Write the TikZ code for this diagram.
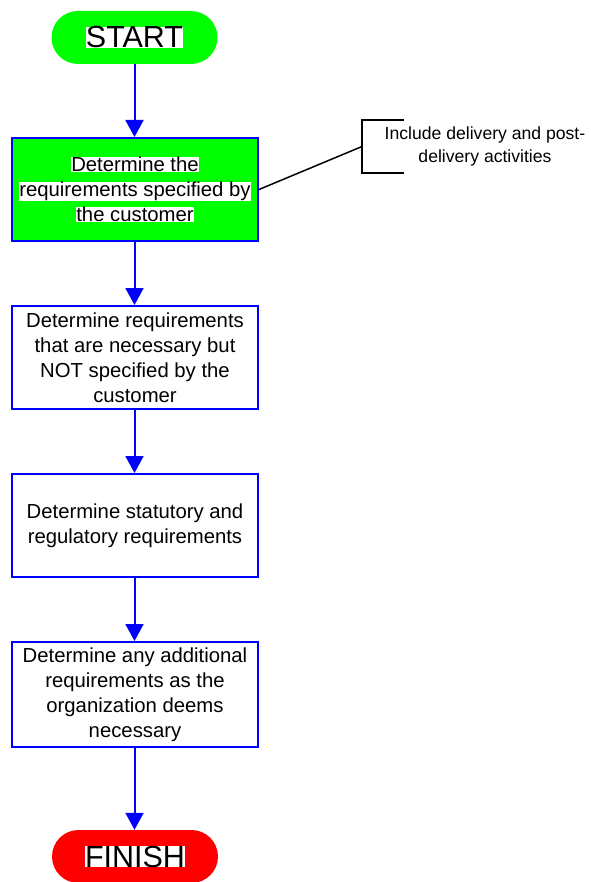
\documentclass[tikz,border=0pt]{standalone}
\usepackage{fontspec}
\setmainfont{Liberation Sans}
\usetikzlibrary{arrows.meta}
\definecolor{flowblue}{RGB}{0,0,255}
\definecolor{flowgreen}{RGB}{0,255,0}
\definecolor{flowred}{RGB}{255,0,0}
% white highlight behind a line of text
\newcommand{\hlt}[1]{{\setlength{\fboxsep}{0pt}\colorbox{white}{#1}}}
\tikzset{
  terminal/.style={rectangle, rounded corners=26.5pt, minimum width=166pt,
    minimum height=53pt, inner sep=0pt, font=\fontsize{30.5}{32}\selectfont},
  stepbox/.style={rectangle, draw=flowblue, line width=2pt, fill=white,
    minimum width=246pt, minimum height=103pt, inner sep=0pt, align=center,
    font=\fontsize{20.3}{25}\selectfont},
  flow/.style={draw=flowblue, line width=2pt,
    -{Triangle[length=17pt,width=18pt]}},
  note/.style={draw=black, line width=1.5pt},
}
\begin{document}
\begin{tikzpicture}[x=1pt,y=-1pt]
\useasboundingbox (0,0) rectangle (590,882);
\begin{scope}
\clip (0,0) rectangle (590,882);
\node[terminal, fill=flowgreen] (start) at (134.5,37.5) {\hlt{START}};
\node[stepbox, fill=flowgreen] (s1) at (135,189.5)
  {\hlt{Determine the}\\\hlt{requirements specified by}\\\hlt{the customer}};
\node[stepbox] (s2) at (135,357.5)
  {Determine requirements\\that are necessary but\\NOT specified by the\\customer};
\node[stepbox] (s3) at (135,525.5)
  {Determine statutory and\\regulatory requirements};
\node[stepbox, minimum height=105pt] (s4) at (135,694.5)
  {Determine any additional\\requirements as the\\organization deems\\necessary};
\node[terminal, fill=flowred] (finish) at (135,856.5) {\hlt{FINISH}};

\draw[flow] (start.south -| 134.5,0) -- (s1.north -| 134.5,0);
\draw[flow] (s1.south -| 134.5,0) -- (s2.north -| 134.5,0);
\draw[flow] (s2.south -| 134.5,0) -- (s3.north -| 134.5,0);
\draw[flow] (s3.south -| 134.5,0) -- (s4.north -| 134.5,0);
\draw[flow] (s4.south -| 134.5,0) -- (finish.north -| 134.5,0);

% annotation bracket
\coordinate (bt) at (404,120);
\coordinate (bm) at (362,146.5);
\coordinate (bb) at (404,173);
\draw[note] (bt) -- (bt -| bm) -- (bb -| bm) -- (bb);
\draw[note] (s1.east) -- (bm);
\node[align=center, font=\fontsize{17.6}{23}\selectfont] (ann) at (485,146.5)
  {Include delivery and post-\\delivery activities};
\end{scope}
\end{tikzpicture}
\end{document}
